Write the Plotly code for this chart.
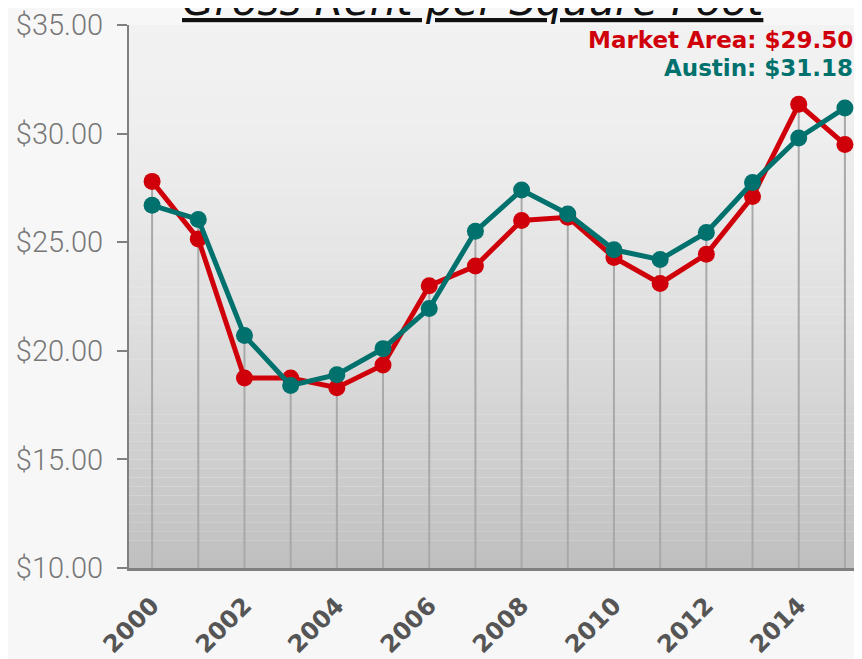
import plotly.graph_objects as go

years = list(range(2000, 2016))
market_area = [27.8, 25.15, 18.75, 18.75, 18.3, 19.35, 23.0, 23.9, 26.0, 26.15,
               24.3, 23.1, 24.45, 27.1, 31.35, 29.50]
austin = [26.7, 26.05, 20.7, 18.4, 18.9, 20.1, 21.95, 25.5, 27.4, 26.3,
          24.65, 24.2, 25.45, 27.75, 29.8, 31.18]
y_ticks = [10, 15, 20, 25, 30, 35]
x_ticks = list(range(2000, 2016, 2))

RED = "#d0000a"
TEAL = "#00716d"

fig = go.Figure()

# gray gradient behind the plot area
n_bands = 60
top, bottom = (242, 242, 242), (192, 192, 192)
for i in range(n_bands):
    t = i / (n_bands - 1)
    t2 = t ** 1.6
    c = tuple(int(top[k] + (bottom[k] - top[k]) * t2) for k in range(3))
    fig.add_shape(
        type="rect", xref="x domain", yref="y domain",
        x0=0, x1=1, y0=1 - (i + 1) / n_bands, y1=1 - i / n_bands,
        fillcolor="rgb(%d,%d,%d)" % c, line_width=0, layer="below",
    )

# drop lines from the higher point to the axis
drop_x, drop_y = [], []
for yr, a, b in zip(years, market_area, austin):
    drop_x += [yr, yr, None]
    drop_y += [10, max(a, b), None]
fig.add_trace(
    go.Scatter(x=drop_x, y=drop_y, mode="lines",
               line=dict(color="#a9a9a9", width=2), hoverinfo="skip", showlegend=False)
)

fig.add_trace(
    go.Scatter(x=years, y=market_area, mode="lines+markers", name="Market Area",
               line=dict(color=RED, width=5), marker=dict(size=17, color=RED))
)
fig.add_trace(
    go.Scatter(x=years, y=austin, mode="lines+markers", name="Austin",
               line=dict(color=TEAL, width=5), marker=dict(size=17, color=TEAL))
)

# page body has an 8px margin, so the figure is sized/offset to compensate
fig.update_layout(
    width=854, height=651,
    margin=dict(l=121, r=0, t=12, b=89),
    paper_bgcolor="#f7f7f7",
    plot_bgcolor="#f0f0f0",
    showlegend=False,
)
fig.update_xaxes(
    range=[1999.5, 2015.37], tickvals=x_ticks, ticktext=[str(v) for v in x_ticks],
    tickangle=-45, showgrid=False, zeroline=False, showline=True,
    linecolor="#808080", linewidth=3, ticks="", ticklabelstandoff=11,
    tickfont=dict(family="DejaVu Sans", size=24, color="#555555", weight="bold"),
)
fig.update_yaxes(
    range=[10, 35], tickvals=y_ticks, ticktext=["$%.2f" % v for v in y_ticks],
    showgrid=False, zeroline=False, showline=True, linecolor="#808080", linewidth=2,
    ticks="outside", ticklen=10, tickwidth=2, tickcolor="#808080",
    ticklabelstandoff=8, ticklabeloverflow="allow",
    tickfont=dict(family="Roboto", size=29, color="#777777", weight=300),
)

fig.add_annotation(
    text="<i><u>Gross Rent per Square Foot</u></i>", xref="paper", yref="paper",
    x=0.47, y=1.0, yanchor="bottom", xanchor="center", yshift=-2, showarrow=False,
    font=dict(family="DejaVu Sans", size=42, color="#111111"),
)
fig.add_annotation(
    text="Market Area: $%.2f" % market_area[-1], xref="paper", yref="paper",
    x=0.99, y=1.0, xanchor="right", yanchor="top", showarrow=False,
    font=dict(family="DejaVu Sans", size=23, color=RED, weight="bold"),
)
fig.add_annotation(
    text="Austin: $%.2f" % austin[-1], xref="paper", yref="paper",
    x=0.99, y=0.948, xanchor="right", yanchor="top", showarrow=False,
    font=dict(family="DejaVu Sans", size=23, color=TEAL, weight="bold"),
)

fig.write_html("out.html")
